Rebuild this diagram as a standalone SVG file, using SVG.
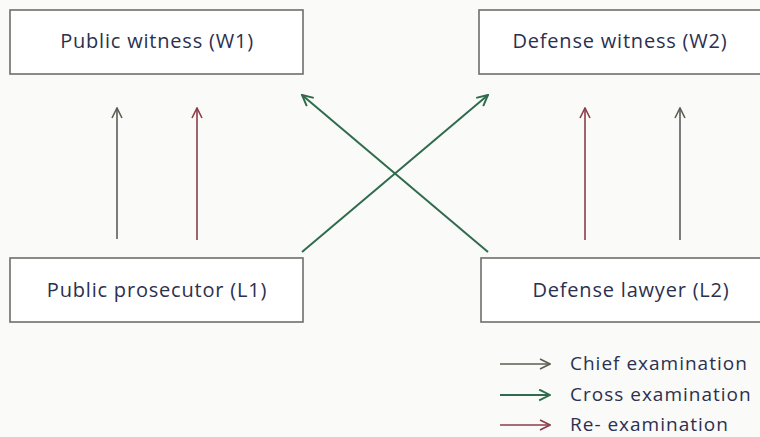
<svg xmlns="http://www.w3.org/2000/svg" width="760" height="437" viewBox="0 0 760 437">
  <style>
    .box { fill: #ffffff; stroke: #6e6e6a; stroke-width: 1.6; }
    .label { font-family: "Comic Sans MS", "Open Sans", "Liberation Sans", sans-serif; font-size: 20px; letter-spacing: 0.8px; fill: #2b3050; text-anchor: middle; }
    .legend { font-family: "Comic Sans MS", "Open Sans", "Liberation Sans", sans-serif; font-size: 19px; letter-spacing: 1px; fill: #2b3050; }
    .chief { stroke: #5c5d55; stroke-width: 1.6; fill: none; marker-end: url(#headChief); }
    .cross { stroke: #2f6b4c; stroke-width: 2; fill: none; marker-end: url(#headCross); }
    .re { stroke: #8c3d48; stroke-width: 1.6; fill: none; marker-end: url(#headRe); }
  </style>
  <defs>
    <marker id="headChief" viewBox="0 0 12 12" refX="11" refY="6" markerWidth="12" markerHeight="12" markerUnits="userSpaceOnUse" orient="auto">
      <path d="M1,1 L11,6 L1,11" fill="none" stroke="#5c5d55" stroke-width="1.6"/>
    </marker>
    <marker id="headCross" viewBox="0 0 12 12" refX="11" refY="6" markerWidth="13" markerHeight="13" markerUnits="userSpaceOnUse" orient="auto">
      <path d="M1,1 L11,6 L1,11" fill="none" stroke="#2f6b4c" stroke-width="1.8"/>
    </marker>
    <marker id="headRe" viewBox="0 0 12 12" refX="11" refY="6" markerWidth="12" markerHeight="12" markerUnits="userSpaceOnUse" orient="auto">
      <path d="M1,1 L11,6 L1,11" fill="none" stroke="#8c3d48" stroke-width="1.6"/>
    </marker>
  </defs>

  <rect width="760" height="437" fill="#fafaf8"/>

  <g id="public-witness">
    <rect class="box" x="10" y="10" width="293" height="64"/>
    <text class="label" x="157" y="48">Public witness (W1)</text>
  </g>
  <g id="defense-witness">
    <rect class="box" x="479" y="10" width="290" height="64"/>
    <text class="label" x="620" y="48">Defense witness (W2)</text>
  </g>
  <g id="public-prosecutor">
    <rect class="box" x="10" y="258" width="293" height="64"/>
    <text class="label" x="157" y="297">Public prosecutor (L1)</text>
  </g>
  <g id="defense-lawyer">
    <rect class="box" x="481" y="258" width="290" height="64"/>
    <text class="label" x="631" y="297">Defense lawyer (L2)</text>
  </g>

  <g id="connectors">
    <line class="chief" x1="117" y1="239" x2="117" y2="108"/>
    <line class="re" x1="197" y1="240" x2="197" y2="108"/>
    <line class="re" x1="585" y1="240" x2="585" y2="108"/>
    <line class="chief" x1="680" y1="240" x2="680" y2="108"/>
    <line class="cross" x1="302" y1="252" x2="488" y2="95"/>
    <line class="cross" x1="488" y1="252" x2="302" y2="95"/>
  </g>

  <g id="legend">
    <line class="chief" x1="500" y1="364" x2="550" y2="364"/>
    <text class="legend" x="570" y="370">Chief examination</text>
    <line class="cross" x1="500" y1="395" x2="550" y2="395"/>
    <text class="legend" x="570" y="401">Cross examination</text>
    <line class="re" x1="500" y1="425" x2="550" y2="425"/>
    <text class="legend" x="570" y="431">Re- examination</text>
  </g>
</svg>
